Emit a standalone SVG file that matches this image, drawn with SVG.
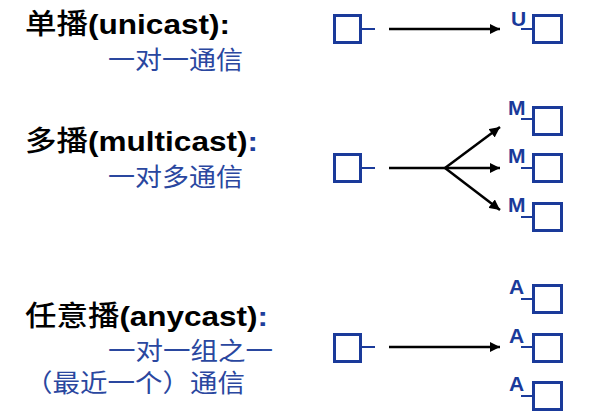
<svg xmlns="http://www.w3.org/2000/svg" width="592" height="417" viewBox="0 0 592 417">
<style>
.t{font-family:"Liberation Sans","Noto Sans CJK SC",sans-serif;font-size:28px;font-weight:bold;fill:#000}
.cj{font-family:"Noto Sans CJK SC",sans-serif;font-weight:500}
.blue{fill:#1f3f9c}
.s{font-family:"Noto Sans CJK SC",sans-serif;font-size:25px;fill:#2a479f}
.box{fill:none;stroke:#1a3a9a;stroke-width:3}
.stub{stroke:#1a3a9a;stroke-width:2}
.lbl{font-family:"Liberation Sans",Arial,sans-serif;font-size:21px;font-weight:bold;fill:#1a3a9a}
.arr{stroke:#000;stroke-width:2.5;fill:none}
</style>
<defs>
<marker id="ah" viewBox="0 0 10 10" refX="10" refY="5" markerWidth="4.2" markerHeight="4.2" orient="auto" markerUnits="strokeWidth">
<path d="M0,0 L10,5 L0,10 z" fill="#000"/>
</marker>
</defs>
<g id="labels">
<text class="t" x="25" y="34" textLength="205" lengthAdjust="spacingAndGlyphs"><tspan class="cj">单播</tspan>(unicast):</text>
<text class="s" x="108" y="69" textLength="135" lengthAdjust="spacingAndGlyphs">一对一通信</text>
<text class="t" x="25" y="151" textLength="233" lengthAdjust="spacingAndGlyphs"><tspan class="cj">多播</tspan>(multicast)<tspan class="blue">:</tspan></text>
<text class="s" x="108" y="186" textLength="135" lengthAdjust="spacingAndGlyphs">一对多通信</text>
<text class="t" x="25" y="326" textLength="243" lengthAdjust="spacingAndGlyphs"><tspan class="cj">任意播</tspan>(anycast)<tspan class="blue">:</tspan></text>
<text class="s" x="108" y="360" textLength="165" lengthAdjust="spacingAndGlyphs">一对一组之一</text>
<text class="s" x="25" y="392" textLength="220" lengthAdjust="spacingAndGlyphs">（最近一个）通信</text>
</g>
<g id="uni-src"><rect class="box" x="334.5" y="15.5" width="26" height="27"/><line class="stub" x1="362" y1="29" x2="375" y2="29"/></g>
<g id="uni-dst"><rect class="box" x="533.5" y="15.5" width="28" height="27"/><line class="stub" x1="521" y1="29" x2="533" y2="29"/><text class="lbl" x="511" y="26">U</text></g>
<g id="multi-src"><rect class="box" x="334.5" y="154.5" width="26" height="27"/><line class="stub" x1="362" y1="168" x2="375" y2="168"/></g>
<g id="multi-dst1"><rect class="box" x="533.5" y="107.5" width="28" height="27"/><line class="stub" x1="521" y1="119" x2="533" y2="119"/><text class="lbl" x="508" y="115">M</text></g>
<g id="multi-dst2"><rect class="box" x="533.5" y="154.5" width="28" height="27"/><line class="stub" x1="521" y1="168" x2="533" y2="168"/><text class="lbl" x="508" y="163">M</text></g>
<g id="multi-dst3"><rect class="box" x="533.5" y="203.5" width="28" height="27"/><line class="stub" x1="521" y1="217" x2="533" y2="217"/><text class="lbl" x="508" y="212">M</text></g>
<g id="any-src"><rect class="box" x="334.5" y="334.5" width="26" height="27"/><line class="stub" x1="362" y1="347" x2="375" y2="347"/></g>
<g id="any-dst1"><rect class="box" x="533.5" y="285.5" width="28" height="27"/><line class="stub" x1="521" y1="299" x2="533" y2="299"/><text class="lbl" x="509" y="294">A</text></g>
<g id="any-dst2"><rect class="box" x="533.5" y="334.5" width="28" height="27"/><line class="stub" x1="521" y1="347" x2="533" y2="347"/><text class="lbl" x="509" y="343">A</text></g>
<g id="any-dst3"><rect class="box" x="533.5" y="382.5" width="28" height="27"/><line class="stub" x1="521" y1="396" x2="533" y2="396"/><text class="lbl" x="509" y="391">A</text></g>
<g id="connectors">
<line class="arr" x1="389" y1="29" x2="500" y2="29" marker-end="url(#ah)"/>
<line class="arr" x1="389" y1="168" x2="500" y2="168" marker-end="url(#ah)"/>
<line class="arr" x1="445" y1="168" x2="500" y2="127" marker-end="url(#ah)"/>
<line class="arr" x1="445" y1="168" x2="500" y2="210" marker-end="url(#ah)"/>
<line class="arr" x1="389" y1="347" x2="500" y2="347" marker-end="url(#ah)"/>
</g>
</svg>
